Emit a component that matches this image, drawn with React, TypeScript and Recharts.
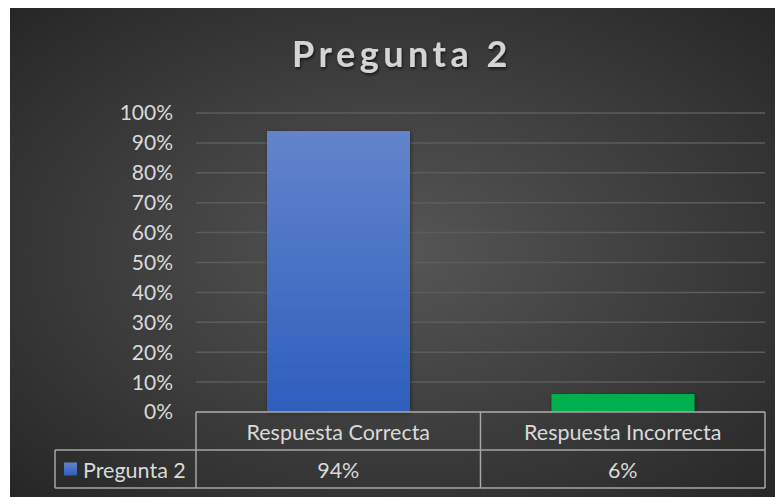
import React from 'react';
import { BarChart, Bar, XAxis, YAxis, CartesianGrid, Cell } from 'recharts';

const categories = ['Respuesta Correcta', 'Respuesta Incorrecta'];
const values = [0.94, 0.06];
const seriesName = 'Pregunta 2';
const yTicks = [0, 0.1, 0.2, 0.3, 0.4, 0.5, 0.6, 0.7, 0.8, 0.9, 1];
const barFills = ['url(#blueGrad)', '#00b050'];

const data = categories.map((c, i) => ({ name: c, value: values[i] }));

const W = 773;
const H = 490;
const PLOT_LEFT = 186;
const PLOT_RIGHT = 755;
const AXIS_Y = 405;
const ROW1 = 443;
const ROW2 = 481;
const HEADER_LEFT = 45;
const LINE = '#a6a6a6';
const TEXT = '#d9d9d9';
const FONT = 'Lato, "Open Sans", sans-serif';
const TABLE_FS = 21.5;

const pct = (v: number) => `${Math.round(v * 100)}%`;

const TableTick = (props: any) => {
  const { x, payload, index } = props;
  const half = (PLOT_RIGHT - PLOT_LEFT) / categories.length / 2;
  const left = x - half;
  const right = x + half;
  return (
    <g>
      <line x1={right} y1={AXIS_Y} x2={right} y2={ROW2} stroke={LINE} strokeWidth={1.5} />
      <line x1={left} y1={ROW1} x2={right} y2={ROW1} stroke={LINE} strokeWidth={1.5} />
      <line x1={left} y1={ROW2} x2={right} y2={ROW2} stroke={LINE} strokeWidth={1.5} />
      <text x={x} y={(AXIS_Y + ROW1) / 2 + 1} textAnchor="middle" dominantBaseline="central" fill={TEXT} fontSize={TABLE_FS} fontFamily={FONT}>
        {payload.value}
      </text>
      <text x={x} y={(ROW1 + ROW2) / 2 + 1} textAnchor="middle" dominantBaseline="central" fill={TEXT} fontSize={TABLE_FS} fontFamily={FONT}>
        {pct(values[index])}
      </text>
      {index === 0 && (
        <g>
          <line x1={left} y1={AXIS_Y} x2={left} y2={ROW2} stroke={LINE} strokeWidth={1.5} />
          <line x1={HEADER_LEFT} y1={ROW1} x2={left} y2={ROW1} stroke={LINE} strokeWidth={1.5} />
          <line x1={HEADER_LEFT} y1={ROW2} x2={left} y2={ROW2} stroke={LINE} strokeWidth={1.5} />
          <line x1={HEADER_LEFT} y1={ROW1} x2={HEADER_LEFT} y2={ROW2} stroke={LINE} strokeWidth={1.5} />
          <rect x={HEADER_LEFT + 9} y={(ROW1 + ROW2) / 2 - 6.5} width={13} height={13} fill="url(#blueGrad)" />
          <text x={HEADER_LEFT + 28} y={(ROW1 + ROW2) / 2 + 1} dominantBaseline="central" fill={TEXT} fontSize={TABLE_FS} fontFamily={FONT}>
            {seriesName}
          </text>
        </g>
      )}
    </g>
  );
};

export default function App() {
  return (
    <div
      style={{
        width: W,
        height: H,
        marginLeft: 2,
        marginTop: -1,
        background: 'radial-gradient(ellipse farthest-corner at 50% 50%, #565656 0%, #262626 100%)',
      }}
    >
      <BarChart
        width={W}
        height={H}
        data={data}
        margin={{ top: 106, right: W - PLOT_RIGHT, bottom: 5, left: PLOT_LEFT - 60 }}
      >
        <defs>
          <linearGradient id="blueGrad" x1="0" y1="0" x2="0" y2="1">
            <stop offset="0%" stopColor="#6384cb" />
            <stop offset="100%" stopColor="#2d5ebd" />
          </linearGradient>
          <filter id="titleShadow" x="-10%" y="-20%" width="120%" height="150%">
            <feDropShadow dx="1" dy="2" stdDeviation="1.5" floodColor="#000" floodOpacity="0.6" />
          </filter>
          <filter id="barShadow" x="-10%" y="-5%" width="120%" height="110%">
            <feDropShadow dx="1" dy="1" stdDeviation="2" floodColor="#000" floodOpacity="0.4" />
          </filter>
        </defs>
        <text
          x={392}
          y={60}
          textAnchor="middle"
          fill="#d4d4d4"
          fontSize={36}
          fontWeight="bold"
          fontFamily={FONT}
          letterSpacing={4.5}
          filter="url(#titleShadow)"
        >
          {seriesName}
        </text>
        <CartesianGrid vertical={false} stroke="#5c5c5c" strokeWidth={1.5} />
        <YAxis
          width={60}
          domain={[0, 1]}
          ticks={yTicks}
          tickFormatter={pct}
          axisLine={false}
          tickLine={false}
          tickSize={0}
          tickMargin={23}
          interval={0}
          tick={{ fill: TEXT, fontSize: 21, fontFamily: FONT }}
        />
        <XAxis
          dataKey="name"
          height={80}
          axisLine={{ stroke: LINE, strokeWidth: 1.5 }}
          tickLine={false}
          tickSize={0}
          tickMargin={0}
          interval={0}
          tick={<TableTick />}
        />
        <Bar dataKey="value" name={seriesName} barSize={143} isAnimationActive={false} filter="url(#barShadow)">
          {data.map((d, i) => (
            <Cell key={d.name} fill={barFills[i]} />
          ))}
        </Bar>
      </BarChart>
    </div>
  );
}
